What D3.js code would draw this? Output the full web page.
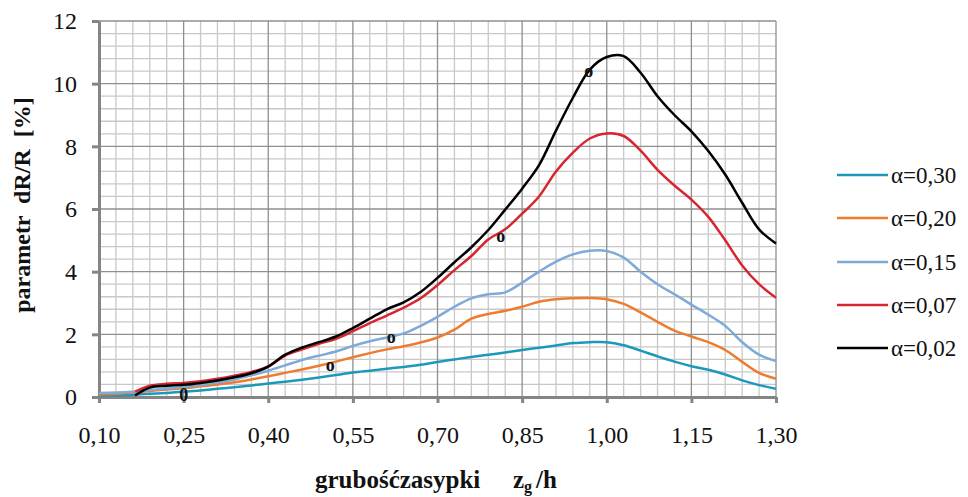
<!DOCTYPE html>
<html><head><meta charset="utf-8">
<script src="https://cdn.jsdelivr.net/npm/d3@7"></script>
<style>html,body{margin:0;padding:0;background:#fff}svg{display:block}</style>
</head><body>
<svg id="chart" width="968" height="497"></svg>
<script>
// ---- data ----
const xTicks = [0.10, 0.25, 0.40, 0.55, 0.70, 0.85, 1.00, 1.15, 1.30];
const xTickLabels = ["0,10","0,25","0,40","0,55","0,70","0,85","1,00","1,15","1,30"];
const yTicks = [0, 2, 4, 6, 8, 10, 12];
const seriesNames = ["α=0,30", "α=0,20", "α=0,15", "α=0,07", "α=0,02"];
const seriesColors = ["#1d98bd", "#ef7b2f", "#7eaad8", "#d6262f", "#000000"];

const xFull = [0.10,0.13,0.16,0.19,0.22,0.25,0.28,0.31,0.34,0.37,0.40,0.43,0.46,0.49,0.52,0.55,0.58,0.61,0.64,0.67,0.70,0.73,0.76,0.79,0.82,0.85,0.88,0.91,0.94,0.97,1.00,1.03,1.06,1.09,1.12,1.15,1.18,1.21,1.24,1.27,1.30];
const xLate = [0.164,0.19,0.22,0.25,0.28,0.31,0.34,0.37,0.40,0.43,0.46,0.49,0.52,0.55,0.58,0.61,0.64,0.67,0.70,0.73,0.76,0.79,0.82,0.85,0.88,0.91,0.94,0.97,1.00,1.03,1.06,1.09,1.12,1.15,1.18,1.21,1.24,1.27,1.30];

const a030 = [0.04,0.05,0.07,0.10,0.13,0.17,0.21,0.26,0.31,0.37,0.43,0.49,0.55,0.62,0.70,0.78,0.84,0.90,0.96,1.03,1.12,1.20,1.28,1.35,1.42,1.50,1.57,1.64,1.72,1.75,1.75,1.65,1.48,1.30,1.13,0.98,0.87,0.72,0.53,0.38,0.26];
const a020 = [0.08,0.10,0.14,0.19,0.24,0.28,0.34,0.40,0.47,0.56,0.66,0.77,0.88,1.00,1.13,1.27,1.40,1.52,1.62,1.74,1.90,2.15,2.50,2.65,2.75,2.88,3.04,3.12,3.15,3.16,3.12,2.97,2.70,2.40,2.12,1.93,1.75,1.50,1.12,0.77,0.58];
const a015 = [0.13,0.14,0.17,0.22,0.27,0.32,0.38,0.46,0.56,0.69,0.84,1.01,1.18,1.32,1.45,1.63,1.78,1.90,2.03,2.27,2.56,2.88,3.15,3.28,3.34,3.65,4.00,4.32,4.55,4.67,4.66,4.45,4.00,3.60,3.28,2.95,2.63,2.27,1.75,1.35,1.15];
const a007 = [0.17,0.36,0.42,0.45,0.50,0.58,0.68,0.80,0.98,1.32,1.52,1.70,1.86,2.10,2.36,2.60,2.85,3.15,3.57,4.05,4.50,5.03,5.35,5.85,6.40,7.20,7.80,8.25,8.41,8.33,7.86,7.25,6.75,6.30,5.75,5.00,4.20,3.60,3.17];
const a002 = [0.05,0.30,0.36,0.39,0.45,0.53,0.63,0.76,0.97,1.35,1.58,1.75,1.93,2.20,2.50,2.80,3.02,3.35,3.80,4.30,4.78,5.33,5.98,6.65,7.40,8.50,9.55,10.45,10.85,10.88,10.35,9.60,9.00,8.48,7.85,7.10,6.20,5.35,4.90];

// point labels "o" drawn on the curves
const markLabels = ["0", "o", "o", "o", "o"];
const markX = [0.25, 0.51, 0.618, 0.812, 0.968];
const markY = [0.06, 1.02, 1.92, 5.14, 10.40];

// ---- chart ----
const svg = d3.select("#chart");
const x = d3.scaleLinear().domain([0.10, 1.30]).range([99, 776]);
const y = d3.scaleLinear().domain([0, 12]).range([397, 21]);
const font = "'Liberation Serif','DejaVu Serif',serif";

svg.append("rect").attr("width", 968).attr("height", 497).attr("fill", "#fff");

// grid
const g = svg.append("g");
const minorX = d3.range(0.13, 1.30, 0.03).filter(v => xTicks.every(t => Math.abs(t - v) > 1e-6));
const minorY = d3.range(0.4, 12, 0.4).filter(v => yTicks.every(t => Math.abs(t - v) > 1e-6));
g.selectAll(".mx").data(minorX).join("line")
  .attr("x1", d => x(d)).attr("x2", d => x(d)).attr("y1", y(12)).attr("y2", y(0))
  .attr("stroke", "#c8c8c8").attr("stroke-width", 1.3);
g.selectAll(".my").data(minorY).join("line")
  .attr("x1", x(0.10)).attr("x2", x(1.30)).attr("y1", d => y(d)).attr("y2", d => y(d))
  .attr("stroke", "#c8c8c8").attr("stroke-width", 1.3);
g.selectAll(".Mx").data(xTicks.slice(1)).join("line")
  .attr("x1", d => x(d)).attr("x2", d => x(d)).attr("y1", y(12)).attr("y2", y(0))
  .attr("stroke", "#8f8f8f").attr("stroke-width", 1.3);
g.selectAll(".My").data(yTicks.slice(1)).join("line")
  .attr("x1", x(0.10)).attr("x2", x(1.30)).attr("y1", d => y(d)).attr("y2", d => y(d))
  .attr("stroke", "#8f8f8f").attr("stroke-width", 1.3);

// axes
const xAxis = d3.axisBottom(x).tickValues(xTicks).tickFormat((d, i) => xTickLabels[i]).tickSize(6).tickSizeOuter(0).tickPadding(23);
const yAxis = d3.axisLeft(y).tickValues(yTicks).tickFormat(d => d).tickSize(7).tickSizeOuter(0).tickPadding(15);
const ax = svg.append("g").attr("transform", `translate(0,${y(0)})`).call(xAxis);
const ay = svg.append("g").attr("transform", `translate(${x(0.10)},0)`).call(yAxis);
[ax, ay].forEach(a => {
  a.attr("font-family", font);
  a.select(".domain").attr("stroke", "#858585").attr("stroke-width", 3);
  a.selectAll(".tick line").attr("stroke", "#858585").attr("stroke-width", 3);
  a.selectAll(".tick text").attr("font-family", font).attr("font-size", 24).attr("fill", "#111");
});

// lines
const line = d3.line().x(d => x(d[0])).y(d => y(d[1])).curve(d3.curveCatmullRom.alpha(0.5));
const series = [
  {xs: xFull, ys: a030}, {xs: xFull, ys: a020}, {xs: xFull, ys: a015},
  {xs: xLate, ys: a007}, {xs: xLate, ys: a002}
];
series.forEach((s, i) => {
  svg.append("path").datum(s.xs.map((v, j) => [v, s.ys[j]]))
    .attr("d", line).attr("fill", "none").attr("stroke", seriesColors[i])
    .attr("stroke-width", 2.5).attr("stroke-linejoin", "round");
});

// point labels
svg.selectAll(".mk").data(markX).join("text")
  .attr("x", d => x(d)).attr("y", (d, i) => y(markY[i]))
  .attr("dy", "0.34em").attr("text-anchor", "middle")
  .attr("font-family", font).attr("font-weight", "bold").attr("font-size", 18)
  .attr("fill", "#111").text((d, i) => markLabels[i]);

// legend
const legY = [175, 218, 262, 305, 348];
const lg = svg.append("g");
seriesNames.forEach((n, i) => {
  lg.append("line").attr("x1", 837).attr("x2", 888).attr("y1", legY[i]).attr("y2", legY[i])
    .attr("stroke", seriesColors[i]).attr("stroke-width", 2.5);
  lg.append("text").attr("x", 891).attr("y", legY[i]).attr("dy", "0.34em")
    .attr("font-family", font).attr("font-size", 23).attr("fill", "#111").text(n);
});

// axis titles
svg.append("text").attr("transform", "translate(30,205) rotate(-90)")
  .attr("text-anchor", "middle").attr("font-family", font).attr("font-weight", "bold")
  .attr("font-size", 24).attr("fill", "#111").attr("xml:space", "preserve")
  .text("parametr  dR/R  [%]");
const xt = svg.append("text").attr("y", 488).attr("font-family", font)
  .attr("font-weight", "bold").attr("font-size", 25).attr("fill", "#111");
xt.append("tspan").attr("x", 315).text("grubośćzasypki");
xt.append("tspan").attr("x", 513).text("z");
xt.append("tspan").attr("dy", 4).attr("font-size", 16).text("g");
xt.append("tspan").attr("dy", -4).attr("dx", 4).text("/h");
</script>
</body></html>
